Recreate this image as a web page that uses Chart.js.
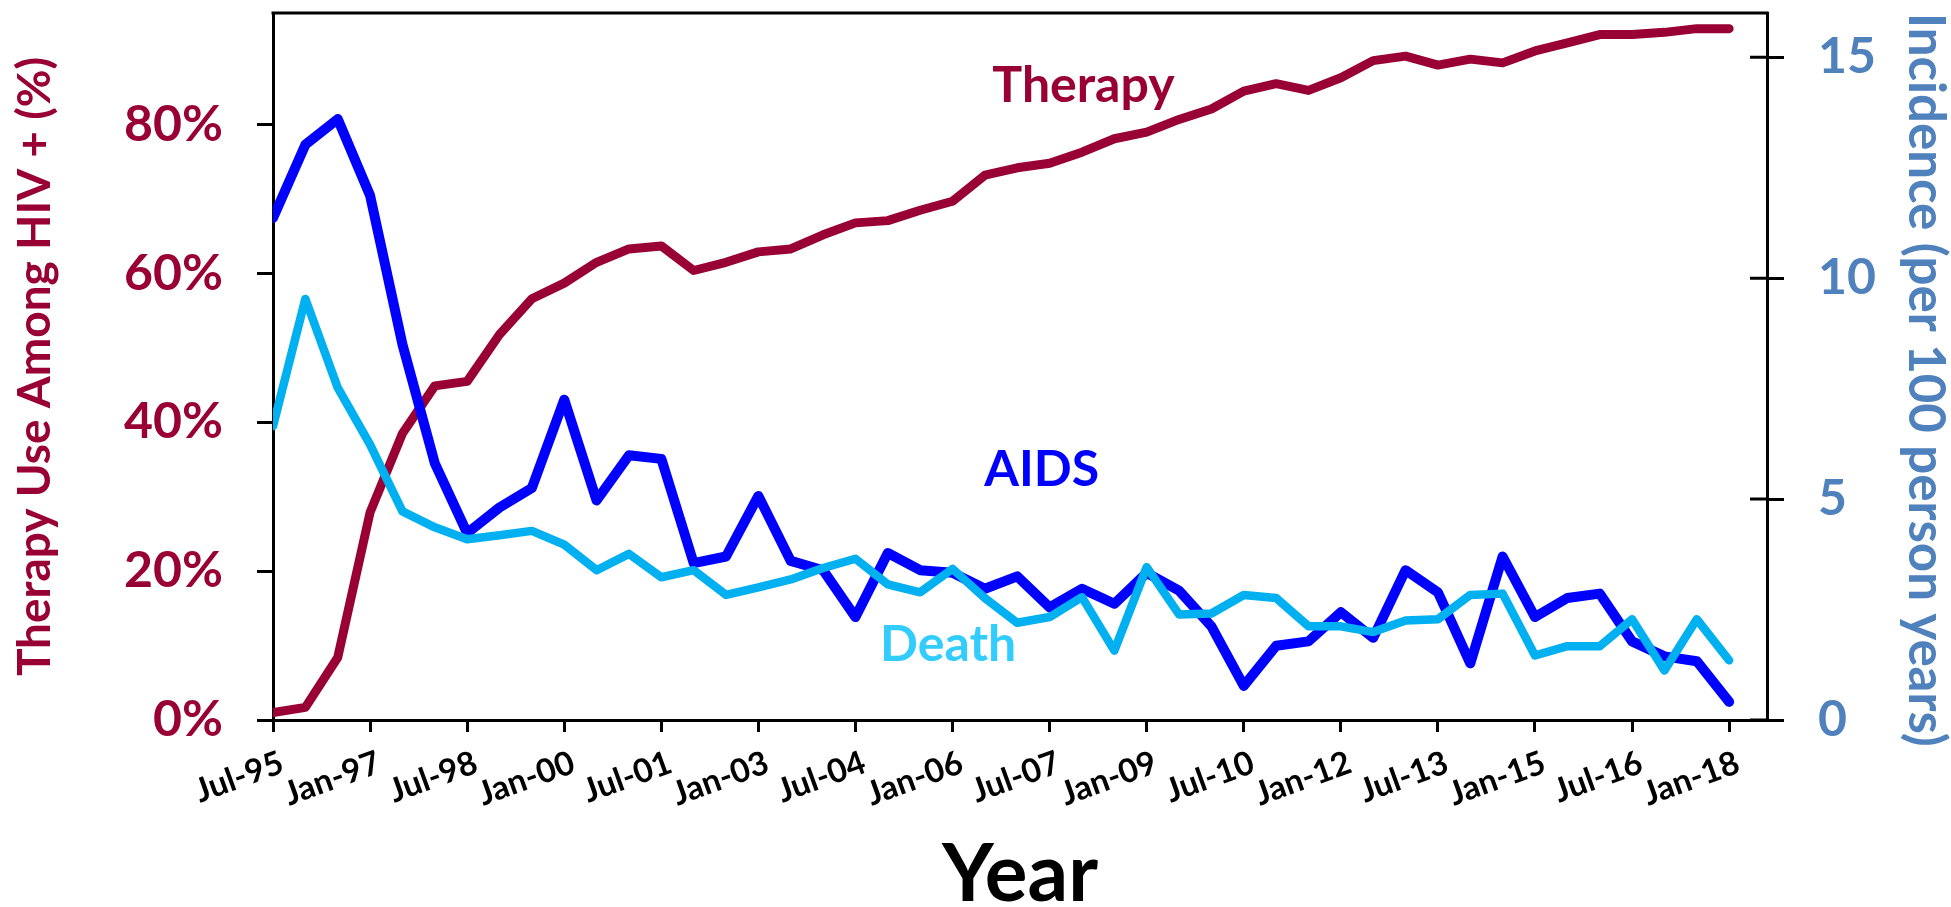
<!DOCTYPE html>
<html>
<head>
<meta charset="utf-8">
<title>Therapy, AIDS and Death</title>
<script src="https://cdn.jsdelivr.net/npm/chart.js@4.4.1/dist/chart.umd.min.js"></script>
<style>
    body { margin: 0; background: #fff; overflow: hidden; }
    canvas { display: block; }
</style>
</head>
<body>
<canvas id="grafico" width="1951" height="907"></canvas>
<script>
// Half-year periods (x axis categories)
const periodos = ['Jul-95','Jan-96','Jul-96','Jan-97','Jul-97','Jan-98','Jul-98','Jan-99','Jul-99','Jan-00',
    'Jul-00','Jan-01','Jul-01','Jan-02','Jul-02','Jan-03','Jul-03','Jan-04','Jul-04','Jan-05',
    'Jul-05','Jan-06','Jul-06','Jan-07','Jul-07','Jan-08','Jul-08','Jan-09','Jul-09','Jan-10',
    'Jul-10','Jan-11','Jul-11','Jan-12','Jul-12','Jan-13','Jul-13','Jan-14','Jul-14','Jan-15',
    'Jul-15','Jan-16','Jul-16','Jan-17','Jul-17','Jan-18'];

// labels shown on the x axis (every third period)
const etiquetasEje = ['Jul-95','Jan-97','Jul-98','Jan-00','Jul-01','Jan-03','Jul-04','Jan-06',
    'Jul-07','Jan-09','Jul-10','Jan-12','Jul-13','Jan-15','Jul-16','Jan-18'];

// Therapy use among HIV+ (%), left axis
const terapia = [1.0, 1.7, 8.4, 27.9, 38.5, 44.9, 45.5, 51.8, 56.6, 58.7,
    61.5, 63.3, 63.7, 60.4, 61.5, 62.9, 63.3, 65.2, 66.8, 67.1,
    68.5, 69.7, 73.2, 74.2, 74.8, 76.3, 78.1, 79.0, 80.7, 82.1,
    84.5, 85.5, 84.6, 86.3, 88.6, 89.2, 88.0, 88.8, 88.3, 89.9,
    91.0, 92.1, 92.1, 92.4, 92.9, 92.9];

// AIDS incidence (per 100 person years), right axis
const sida = [11.36, 13.02, 13.60, 11.87, 8.50, 5.81, 4.23, 4.81, 5.25, 7.25,
    4.97, 5.99, 5.91, 3.55, 3.70, 5.07, 3.60, 3.39, 2.33, 3.78,
    3.39, 3.33, 2.97, 3.25, 2.55, 2.97, 2.63, 3.33, 2.93, 2.12,
    0.77, 1.68, 1.78, 2.44, 1.86, 3.39, 2.89, 1.28, 3.70, 2.33,
    2.76, 2.86, 1.78, 1.44, 1.33, 0.41];

// Death incidence (per 100 person years), right axis
const muerte = [6.65, 9.53, 7.52, 6.23, 4.72, 4.36, 4.09, 4.18, 4.28, 3.97,
    3.39, 3.76, 3.23, 3.39, 2.83, 3.00, 3.18, 3.44, 3.65, 3.07,
    2.89, 3.42, 2.76, 2.20, 2.33, 2.78, 1.57, 3.46, 2.39, 2.41,
    2.83, 2.76, 2.12, 2.12, 1.99, 2.25, 2.28, 2.83, 2.86, 1.46,
    1.67, 1.67, 2.28, 1.12, 2.28, 1.35];

const fuente = 'Lato';

function puntos(serie) {
    return serie.map((v, i) => ({ x: i, y: v }));
}

// top border, inner half of the right ticks and the line labels
const marco = {
    id: 'marco',
    afterDraw(chart) {
        const ctx = chart.ctx;
        const area = chart.chartArea;
        const y2 = chart.scales.y2;
        const x = chart.scales.x;
        const y = chart.scales.y;

        ctx.save();
        ctx.strokeStyle = '#000';
        ctx.lineWidth = 3;
        ctx.beginPath();
        ctx.moveTo(area.left - 1.5, area.top);
        ctx.lineTo(area.right + 1.5, area.top);
        for (let t of y2.ticks) {
            const py = y2.getPixelForValue(t.value);
            ctx.moveTo(area.right - 17, py);
            ctx.lineTo(area.right, py);
        }
        ctx.stroke();

        ctx.font = 'bold 50px ' + fuente;
        ctx.textAlign = 'left';
        ctx.textBaseline = 'alphabetic';
        ctx.fillStyle = '#990033';
        ctx.fillText('Therapy', x.getPixelForValue(22.23), y.getPixelForValue(83.0));
        ctx.fillStyle = '#0000FF';
        ctx.fillText('AIDS', x.getPixelForValue(21.98), y2.getPixelForValue(5.29));
        ctx.fillStyle = '#33CCFF';
        ctx.fillText('Death', x.getPixelForValue(18.76), y2.getPixelForValue(1.33));
        ctx.restore();
    }
};

const ctx = document.getElementById('grafico').getContext('2d');
new Chart(ctx, {
    type: 'line',
    data: {
        datasets: [
            {
                label: 'Death',
                data: puntos(muerte),
                yAxisID: 'y2',
                borderColor: '#00B0F0',
                borderWidth: 8.5,
                order: 1
            },
            {
                label: 'AIDS',
                data: puntos(sida),
                yAxisID: 'y2',
                borderColor: '#0000FF',
                borderWidth: 10,
                order: 2
            },
            {
                label: 'Therapy',
                data: puntos(terapia),
                yAxisID: 'y',
                borderColor: '#990033',
                borderWidth: 9,
                order: 3
            }
        ]
    },
    options: {
        responsive: false,
        devicePixelRatio: 1,
        animation: false,
        layout: { padding: { top: 13, left: 0, right: 0, bottom: 0 } },
        elements: {
            point: { radius: 0 },
            line: { tension: 0, borderJoinStyle: 'round', borderCapStyle: 'round', fill: false }
        },
        plugins: {
            legend: { display: false },
            tooltip: { enabled: false }
        },
        scales: {
            x: {
                type: 'linear',
                min: 0,
                max: 46.17,
                afterFit: (s) => { s.height = 187; s.paddingLeft = 0; s.paddingRight = 0; },
                ticks: {
                    stepSize: 3,
                    autoSkip: false,
                    includeBounds: false,
                    minRotation: 20,
                    maxRotation: 20,
                    padding: 11,
                    labelOffset: 9,
                    color: '#000',
                    font: { family: fuente, size: 33, weight: 'bold' },
                    callback: (v) => {
                        const i = Math.round(v);
                        return i % 3 === 0 ? etiquetasEje[i / 3] : '';
                    }
                },
                grid: { drawOnChartArea: false, tickLength: 12, color: '#000', lineWidth: 3 },
                border: { color: '#000', width: 3 },
                title: {
                    display: true,
                    text: 'Year',
                    color: '#000',
                    font: { family: fuente, size: 80, weight: 'bold', lineHeight: 1 },
                    padding: { top: 0, bottom: -8 }
                }
            },
            y: {
                position: 'left',
                min: 0,
                max: 95,
                afterFit: (s) => { s.width = 273; s.paddingTop = 0; s.paddingBottom = 0; },
                ticks: {
                    stepSize: 20,
                    includeBounds: false,
                    padding: 34,
                    color: '#990033',
                    font: { family: fuente, size: 50, weight: 'bold' },
                    callback: (v) => v + '%'
                },
                grid: { drawOnChartArea: false, tickLength: 16, color: '#000', lineWidth: 3 },
                border: { color: '#000', width: 3 },
                title: {
                    display: true,
                    text: 'Therapy Use Among HIV + (%)',
                    color: '#990033',
                    font: { family: fuente, size: 46, weight: 'bold', lineHeight: 1 },
                    padding: { top: 12, bottom: 0 }
                }
            },
            y2: {
                position: 'right',
                min: 0,
                max: 16,
                afterFit: (s) => { s.width = 184; s.paddingTop = 0; s.paddingBottom = 0; },
                ticks: {
                    stepSize: 5,
                    includeBounds: false,
                    padding: 34,
                    color: '#4F81BD',
                    font: { family: fuente, size: 50, weight: 'bold' }
                },
                grid: { drawOnChartArea: false, tickLength: 17, color: '#000', lineWidth: 3 },
                border: { color: '#000', width: 3 },
                title: {
                    display: true,
                    text: 'Incidence (per 100 person years)',
                    align: 'end',
                    color: '#4F81BD',
                    font: { family: fuente, size: 51, weight: 'bold', lineHeight: 1 },
                    padding: { top: 0, bottom: 0 }
                }
            }
        }
    },
    plugins: [marco]
});
</script>
</body>
</html>
